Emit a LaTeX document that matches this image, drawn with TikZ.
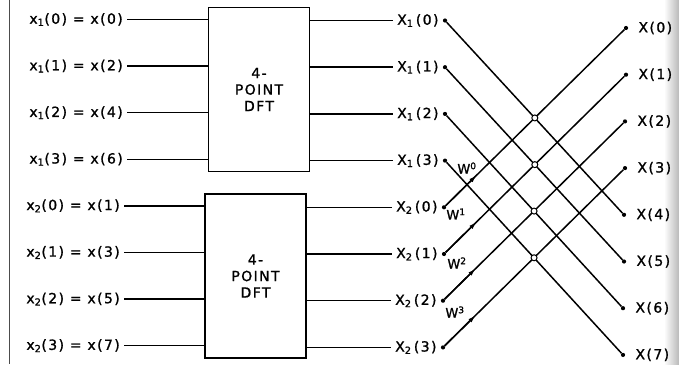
\documentclass[tikz,border=0pt]{standalone}
\usepackage{fontspec}
\newfontfamily\dftfont[LetterSpace=10, FakeBold=1.2]{DejaVu Sans}
\usetikzlibrary{shapes,arrows,arrows.meta,positioning,calc}

\begin{document}
\begin{tikzpicture}[
    x=1pt, y=-1pt,
    node distance=0pt,
    dftbox/.style={rectangle, draw, line width=1.7pt, minimum width=101pt, minimum height=164pt, align=center, font=\dftfont\fontsize{14}{16.5}\selectfont},
    inlbl/.style={anchor=east, inner sep=4pt, font=\dftfont\fontsize{14}{16}\selectfont},
    outlbl/.style={inner sep=4pt, font=\dftfont\fontsize{14}{16}\selectfont},
    wlbl/.style={inner sep=0pt, font=\dftfont\fontsize{13}{15}\selectfont},
    tap/.style={circle, fill, inner sep=0pt, minimum size=4.2pt},
    xing/.style={circle, draw, fill=white, line width=1pt, inner sep=0pt, minimum size=6pt},
    wire/.style={draw, line width=1.5pt},
    line/.style={draw, -{Latex[length=8pt, width=4.5pt]}, line width=1.5pt}
]
\useasboundingbox (0,0) rectangle (679,364);

% scan edges
\draw[gray!60!black, line width=0.8pt] (9,0) -- (9,364);
\shade[left color=white, right color=gray!55] (664,0) rectangle (679,364);

% Nodes
\node[dftbox] (dft1) at (259,89.5) {4-\\POINT\\DFT};
\node[dftbox] (dft2) at (255.5,276) {4-\\POINT\\DFT};

\node[inlbl] (in0) at (127,19.5) {x\textsubscript{1}(0) = x(0)};
\node[inlbl] (in1) at (127,66.1) {x\textsubscript{1}(1) = x(2)};
\node[inlbl] (in2) at (127,112.7) {x\textsubscript{1}(2) = x(4)};
\node[inlbl] (in3) at (127,159.3) {x\textsubscript{1}(3) = x(6)};
\node[inlbl] (in4) at (124,205.9) {x\textsubscript{2}(0) = x(1)};
\node[inlbl] (in5) at (124,252.5) {x\textsubscript{2}(1) = x(3)};
\node[inlbl] (in6) at (124,299.1) {x\textsubscript{2}(2) = x(5)};
\node[inlbl] (in7) at (124,345.7) {x\textsubscript{2}(3) = x(7)};

\node[tap] (l0) at (445,20.5) {};
\node[tap] (l1) at (445,67.2) {};
\node[tap] (l2) at (445,113.9) {};
\node[tap] (l3) at (445,160.6) {};
\node[tap] (l4) at (444,207.3) {};
\node[tap] (l5) at (444,254) {};
\node[tap] (l6) at (443,300.7) {};
\node[tap] (l7) at (443,347.4) {};

\node[outlbl, left=of l0] (y0) {X\textsubscript{1}\,(0)};
\node[outlbl, left=of l1] (y1) {X\textsubscript{1}\,(1)};
\node[outlbl, left=of l2] (y2) {X\textsubscript{1}\,(2)};
\node[outlbl, left=of l3] (y3) {X\textsubscript{1}\,(3)};
\node[outlbl, left=of l4] (y4) {X\textsubscript{2}\,(0)};
\node[outlbl, left=of l5] (y5) {X\textsubscript{2}\,(1)};
\node[outlbl, left=of l6] (y6) {X\textsubscript{2}\,(2)};
\node[outlbl, left=of l7] (y7) {X\textsubscript{2}\,(3)};

\node[tap] (r0) at (626,28) {};
\node[tap] (r1) at (626,74.7) {};
\node[tap] (r2) at (625,121.4) {};
\node[tap] (r3) at (625,168.1) {};
\node[tap] (r4) at (624,214.8) {};
\node[tap] (r5) at (624,261.5) {};
\node[tap] (r6) at (623,308.2) {};
\node[tap] (r7) at (623,354.9) {};

\node[outlbl, right=6pt of r0] (z0) {X(0)};
\node[outlbl, right=6pt of r1] (z1) {X(1)};
\node[outlbl, right=6pt of r2] (z2) {X(2)};
\node[outlbl, right=6pt of r3] (z3) {X(3)};
\node[outlbl, right=6pt of r4] (z4) {X(4)};
\node[outlbl, right=6pt of r5] (z5) {X(5)};
\node[outlbl, right=6pt of r6] (z6) {X(6)};
\node[outlbl, right=6pt of r7] (z7) {X(7)};

\node[wlbl] (w0) at (467,168) {W\textsuperscript{0}};
\node[wlbl] (w1) at (456,214) {W\textsuperscript{1}};
\node[wlbl] (w2) at (457,263) {W\textsuperscript{2}};
\node[wlbl] (w3) at (455,312) {W\textsuperscript{3}};

% Connections
\foreach \i in {0,...,3} {
  \path[wire] (in\i.east) -- (in\i.east -| dft1.west);
  \path[wire] (y\i.west -| dft1.east) -- (y\i.west);
}
\foreach \i in {4,...,7} {
  \path[wire] (in\i.east) -- (in\i.east -| dft2.west);
  \path[wire] (y\i.west -| dft2.east) -- (y\i.west);
}

% butterflies
\foreach \k/\m in {0/4,1/5,2/6,3/7} {
  \path[wire] (l\k) -- (r\m);
  \path[wire] (l\m) -- (r\k);
  \path[line] (l\m) -- ($(l\m)!0.18!(r\k)$);
  \node[xing] at (intersection cs: first line={(l\k)--(r\m)}, second line={(l\m)--(r\k)}) {};
}

\end{tikzpicture}
\end{document}
